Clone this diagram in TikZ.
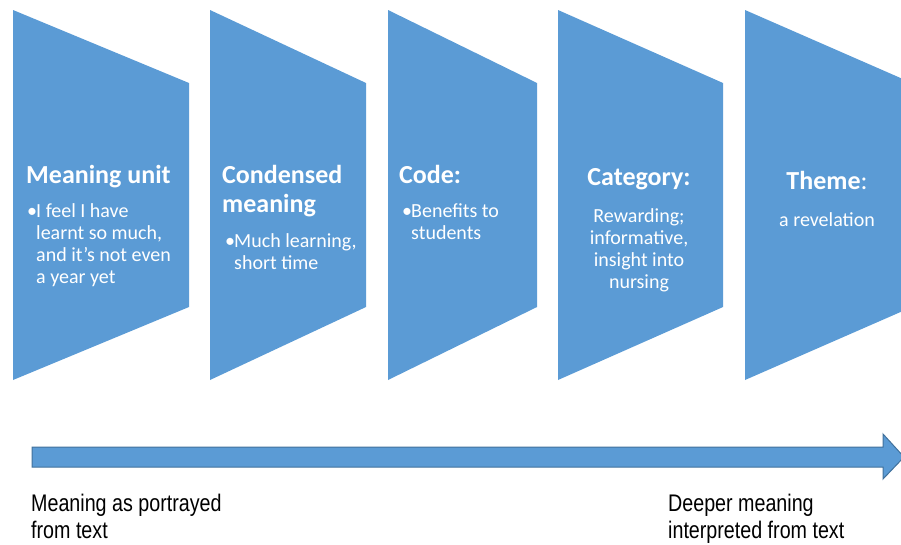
\documentclass[tikz,border=0pt]{standalone}
\usepackage{fontspec}
\setmainfont{Carlito}
\newfontfamily\notefont[FakeStretch=0.82]{Liberation Sans}

\definecolor{stageblue}{HTML}{5B9BD5}
\definecolor{stageedge}{HTML}{41719C}

\newcommand{\itemdot}{\makebox[9pt][l]{\textbullet}}
\newcommand{\itemgap}{\hspace*{9pt}}
% lines that keep the baseline of their first line
\newcommand{\leftlines}[1]{\begin{tabular}[t]{@{}l@{}}#1\end{tabular}}
\newcommand{\midlines}[1]{\begin{tabular}[t]{@{}c@{}}#1\end{tabular}}

\begin{document}
\begin{tikzpicture}[x=1pt,y=-1pt,
    stage/.style={fill=stageblue},
    heading/.style={white,font=\bfseries\fontsize{26}{29}\selectfont,inner sep=0pt,anchor=base west},
    body/.style={white,font=\fontsize{20}{22}\selectfont,inner sep=0pt,anchor=base west},
    note/.style={font=\notefont\fontsize{24}{27}\selectfont,inner sep=0pt,anchor=base west}]

  \useasboundingbox (0,0) rectangle (901,544);
  \clip (0,0) rectangle (901,544);

  % the five stages
  \foreach \l/\r in {13/189, 210/366, 388/537, 558/723, 745/912}
    \fill[stage] (\l,10) -- (\r,83) -- (\r,307) -- (\l,380) -- cycle;

  \node[heading] (unit-head) at (26,183) {Meaning unit};
  \node[body] (unit-text) at (27,217) {\leftlines{\itemdot I feel I have\\\itemgap learnt so much,\\\itemgap and it’s not even\\\itemgap a year yet}};

  \node[heading] (cond-head) at (222,183) {\leftlines{Condensed\\meaning}};
  \node[body] (cond-text) at (225,247) {\leftlines{\itemdot Much learning,\\\itemgap short time}};

  \node[heading] (code-head) at (399,183) {Code:};
  \node[body] (code-text) at (402,217) {\leftlines{\itemdot Benefits to\\\itemgap students}};

  \node[heading,anchor=base] (cat-head) at (639,185) {Category:};
  \node[body,anchor=base] (cat-text) at (639,222) {\midlines{Rewarding;\\informative,\\insight into\\nursing}};

  \node[heading,anchor=base] (theme-head) at (827,189) {Theme{\mdseries:}};
  \node[body,anchor=base] (theme-text) at (827,226) {a revelation};

  % the arrow underneath
  \draw[stageedge,fill=stageblue,line width=1pt]
    (32,447) -- (883,447) -- (883,434) -- (904,457) -- (883,479) -- (883,467) -- (32,467) -- cycle;

  \node[note] (from-text) at (31,511) {\leftlines{Meaning as portrayed\\from text}};
  \node[note] (deep-text) at (668,511) {\leftlines{Deeper meaning\\interpreted from text}};
\end{tikzpicture}
\end{document}
